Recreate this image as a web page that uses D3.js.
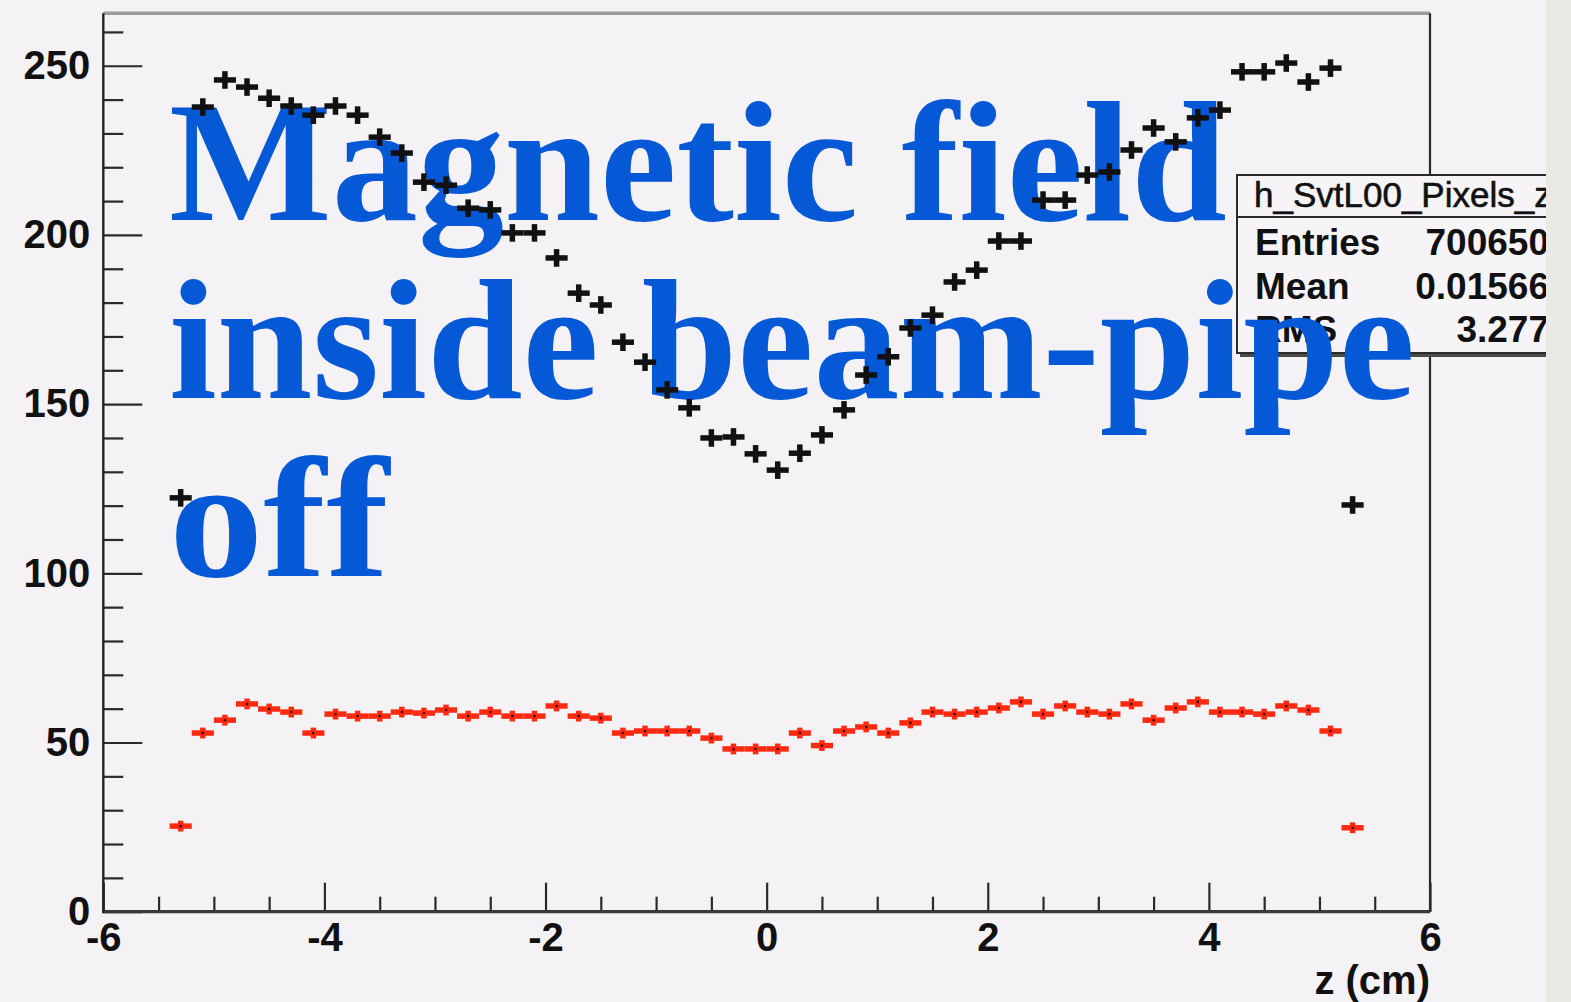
<!DOCTYPE html>
<html>
<head>
<meta charset="utf-8">
<script src="https://cdn.jsdelivr.net/npm/d3@7/dist/d3.min.js"></script>
<style>
  html, body { margin: 0; padding: 0; background: #f5f2f5; overflow: hidden; }
  svg { display: block; }
  .axis text { font-family: "Liberation Sans", Arial, sans-serif; font-weight: bold; font-size: 40px; fill: #111; }
  .axis line { stroke: #2a2a2a; stroke-width: 2.2px; }
</style>
</head>
<body>
<svg id="chart" width="1571" height="1002"></svg>
<script>
// Histogram h_SvtL00_Pixels_z : bin centres (cm), bin width 0.2
const binCentres = [
  -5.3, -5.1, -4.9, -4.7, -4.5, -4.3, -4.1, -3.9, -3.7, -3.5, -3.3, -3.1, -2.9, -2.7,
  -2.5, -2.3, -2.1, -1.9, -1.7, -1.5, -1.3, -1.1, -0.9, -0.7, -0.5, -0.3, -0.1,
  0.1, 0.3, 0.5, 0.7, 0.9, 1.1, 1.3, 1.5, 1.7, 1.9, 2.1, 2.3, 2.5, 2.7,
  2.9, 3.1, 3.3, 3.5, 3.7, 3.9, 4.1, 4.3, 4.5, 4.7, 4.9, 5.1, 5.3
];
const binWidth = 0.2;

// black series (field off)
const blackValues = [
  122.3, 237.8, 245.8, 243.7, 240.4, 238.1, 235.4, 238.1, 235.4, 228.9, 224.2, 215.6, 214.7, 207.9,
  207.4, 200.6, 200.6, 193.2, 182.8, 179.3, 168.3, 162.4, 154.2, 148.9, 140.0, 140.3, 135.3,
  130.5, 135.5, 140.9, 148.3, 158.6, 164.0, 172.5, 176.3, 186.1, 189.6, 198.2, 198.2, 210.3, 210.3,
  217.7, 218.6, 225.1, 231.6, 227.5, 234.6, 236.9, 248.2, 248.2, 250.8, 245.2, 249.3, 120.2
];
// red series
const redValues = [
  25.3, 52.8, 56.6, 61.4, 59.9, 59.0, 52.8, 58.4, 57.8, 57.8, 59.0, 58.7, 59.6, 57.8,
  59.0, 57.8, 57.8, 60.8, 57.8, 57.2, 52.8, 53.4, 53.4, 53.4, 51.3, 48.1, 48.1,
  48.1, 52.8, 49.1, 53.4, 54.6, 52.8, 55.8, 59.0, 58.4, 59.0, 60.2, 62.0, 58.4, 60.8,
  59.0, 58.4, 61.4, 56.6, 60.2, 62.0, 59.0, 59.0, 58.4, 60.8, 59.6, 53.4, 24.8
];
const blackErr = 2.6;
const redErr = 1.6;

const xDomain = [-6, 6];
const yDomain = [0, 265.5];
const xMajorTicks = [-6, -4, -2, 0, 2, 4, 6];
const xMinorTicks = [-5.5, -5, -4.5, -3.5, -3, -2.5, -1.5, -1, -0.5, 0.5, 1, 1.5, 2.5, 3, 3.5, 4.5, 5, 5.5];
const yMajorTicks = [0, 50, 100, 150, 200, 250];
const yMinorTicks = [10, 20, 30, 40, 60, 70, 80, 90, 110, 120, 130, 140, 160, 170, 180, 190, 210, 220, 230, 240, 260];

const statsTitle = "h_SvtL00_Pixels_z";
const statsRows = [["Entries", "700650"], ["Mean", "0.01566"], ["RMS", "3.277"]];
const titleLines = ["Magnetic field", "inside beam-pipe", "off"];
const titleWidths = [1058, 1246, 220];   // measured line widths on the slide

const svg = d3.select('#chart');
const W = 1571, H = 1002;
const frame = { left: 103.3, right: 1430, top: 13.3, bottom: 911.7 };

const x = d3.scaleLinear().domain(xDomain).range([frame.left, frame.right]);
const y = d3.scaleLinear().domain(yDomain).range([frame.bottom, frame.top]);
const plain = d => String(d);   // ROOT prints a plain hyphen, not U+2212

svg.append('rect').attr('width', W).attr('height', H).attr('fill', '#f5f2f5');

/* ── axes (ROOT style: ticks point into the frame) ── */
const yMajor = svg.append('g').attr('class', 'axis')
  .attr('transform', `translate(${frame.left},0)`)
  .call(d3.axisLeft(y).tickValues(yMajorTicks).tickFormat(plain).tickSize(-39).tickSizeOuter(0).tickPadding(13));
const yMinor = svg.append('g').attr('class', 'axis')
  .attr('transform', `translate(${frame.left},0)`)
  .call(d3.axisLeft(y).tickValues(yMinorTicks).tickSize(-20).tickSizeOuter(0).tickFormat(''));
const xMajor = svg.append('g').attr('class', 'axis')
  .attr('transform', `translate(0,${frame.bottom})`)
  .call(d3.axisBottom(x).tickValues(xMajorTicks).tickFormat(plain).tickSize(-29).tickSizeOuter(0).tickPadding(11));
const xMinor = svg.append('g').attr('class', 'axis')
  .attr('transform', `translate(0,${frame.bottom})`)
  .call(d3.axisBottom(x).tickValues(xMinorTicks).tickSize(-15).tickSizeOuter(0).tickFormat(''));
[yMajor, yMinor, xMajor, xMinor].forEach(g => g.select('.domain').remove());

// frame
svg.append('line').attr('x1', frame.left).attr('x2', frame.right).attr('y1', frame.top).attr('y2', frame.top)
  .attr('stroke', '#9d9b9d').attr('stroke-width', 3.5);
svg.append('line').attr('x1', frame.right).attr('x2', frame.right).attr('y1', frame.top).attr('y2', frame.bottom)
  .attr('stroke', '#2a2a2a').attr('stroke-width', 2.2);
svg.append('line').attr('x1', frame.left).attr('x2', frame.right).attr('y1', frame.bottom).attr('y2', frame.bottom)
  .attr('stroke', '#3a3a3a').attr('stroke-width', 3.2);
svg.append('line').attr('x1', frame.left).attr('x2', frame.left).attr('y1', frame.top).attr('y2', frame.bottom + 1.5)
  .attr('stroke', '#222').attr('stroke-width', 2.4);

svg.append('text')
  .attr('x', frame.right).attr('y', 994)
  .attr('text-anchor', 'end')
  .style('font-family', '"Liberation Sans", Arial, sans-serif')
  .style('font-weight', 'bold').style('font-size', '40px').attr('fill', '#111')
  .text('z (cm)');

/* ── stats box ── */
const box = { x: 1237, y: 175, w: 340, h: 178, head: 42 };
const stats = svg.append('g');
stats.append('rect').attr('x', box.x + 3).attr('y', box.y + 4).attr('width', box.w).attr('height', box.h)
  .attr('fill', '#4a4a4a');
stats.append('rect').attr('x', box.x).attr('y', box.y).attr('width', box.w).attr('height', box.h)
  .attr('fill', '#f7f4f7').attr('stroke', '#2a2a2a').attr('stroke-width', 2);
stats.append('line').attr('x1', box.x).attr('x2', box.x + box.w)
  .attr('y1', box.y + box.head).attr('y2', box.y + box.head)
  .attr('stroke', '#2a2a2a').attr('stroke-width', 2);
stats.append('text').attr('x', 1254).attr('y', 207)
  .style('font-family', '"Liberation Sans", Arial, sans-serif').style('font-size', '35px')
  .style('stroke', '#111').style('stroke-width', 0.6).attr('fill', '#111')
  .text(statsTitle);
statsRows.forEach((r, i) => {
  const by = 255 + i * 43.5;
  stats.append('text').attr('x', 1255).attr('y', by)
    .style('font-family', '"Liberation Sans", Arial, sans-serif').style('font-weight', 'bold')
    .style('font-size', '37px').attr('fill', '#111').text(r[0]);
  stats.append('text').attr('x', 1549).attr('y', by).attr('text-anchor', 'end')
    .style('font-family', '"Liberation Sans", Arial, sans-serif').style('font-weight', 'bold')
    .style('font-size', '37px').attr('fill', '#111').text(r[1]);
});

/* ── slide overlay text ── */
titleLines.forEach((t, i) => {
  svg.append('text')
    .attr('x', 169).attr('y', 220 + i * 178)
    .attr('textLength', titleWidths[i]).attr('lengthAdjust', 'spacingAndGlyphs')
    .style('font-family', '"Liberation Serif", "Times New Roman", serif')
    .style('font-weight', 'bold').style('font-size', '172px')
    .attr('fill', '#0558d6')
    .text(t);
});

/* ── data points with error bars ── */
function drawSeries(values, err, color, width, dot) {
  const g = svg.append('g');
  const pts = binCentres.map((c, i) => ({ c, v: values[i] }));
  g.selectAll('line.h').data(pts).join('line').attr('class', 'h')
    .attr('x1', d => x(d.c - binWidth / 2)).attr('x2', d => x(d.c + binWidth / 2))
    .attr('y1', d => y(d.v)).attr('y2', d => y(d.v))
    .attr('stroke', color).attr('stroke-width', width);
  g.selectAll('line.v').data(pts).join('line').attr('class', 'v')
    .attr('x1', d => x(d.c)).attr('x2', d => x(d.c))
    .attr('y1', d => y(d.v - err)).attr('y2', d => y(d.v + err))
    .attr('stroke', color).attr('stroke-width', width);
  if (dot) {
    g.selectAll('circle').data(pts).join('circle')
      .attr('cx', d => x(d.c)).attr('cy', d => y(d.v)).attr('r', 1.3).attr('fill', '#300');
  }
}
drawSeries(blackValues, blackErr, '#111', 5.5, false);
drawSeries(redValues, redErr, '#ff2a10', 5.5, true);

// right-hand strip of the slide
svg.append('rect').attr('x', 1546).attr('y', 0).attr('width', W - 1546).attr('height', H).attr('fill', '#ebe9e4');
</script>
</body>
</html>
